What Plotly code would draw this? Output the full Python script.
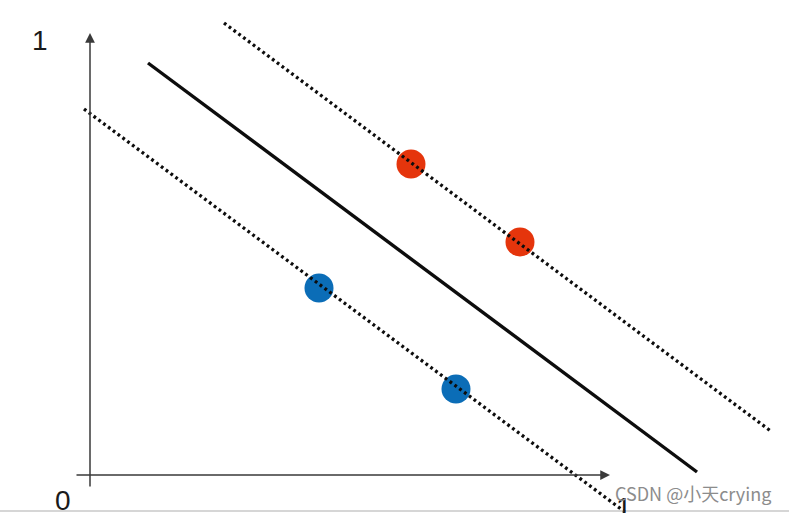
import plotly.graph_objects as go

# Coordinates: origin at the axes' crossing; units ~ pixels of the reference
solid_x = [58, 607]
solid_y = [412, 3]
upper_x = [134, 682]
upper_y = [452, 43]
lower_x = [-6, 535]
lower_y = [366, -37]
red_x = [321, 430]
red_y = [311, 233]
blue_x = [229, 366]
blue_y = [187, 86]

fig = go.Figure()
fig.add_trace(go.Scatter(x=red_x, y=red_y, mode="markers",
                         marker=dict(size=29, color="#E5350C", line=dict(width=0))))
fig.add_trace(go.Scatter(x=blue_x, y=blue_y, mode="markers",
                         marker=dict(size=29, color="#0B6DB7", line=dict(width=0))))
fig.add_trace(go.Scatter(x=solid_x, y=solid_y, mode="lines",
                         line=dict(color="#0d0d0d", width=3.4)))
for lx, ly in [(upper_x, upper_y), (lower_x, lower_y)]:
    fig.add_trace(go.Scatter(x=lx, y=ly, mode="lines",
                             line=dict(color="#0d0d0d", width=3.3, dash="2.8px,3.2px")))

axis_col = "#3a3a3a"
# y axis with arrow
fig.add_annotation(x=0, y=442, ax=0, ay=-13, xref="x", yref="y", axref="x", ayref="y",
                   showarrow=True, arrowhead=2, arrowsize=1.3, arrowwidth=1.5,
                   arrowcolor=axis_col, text="")
# x axis with arrow
fig.add_annotation(x=520, y=0, ax=-15, ay=0, xref="x", yref="y", axref="x", ayref="y",
                   showarrow=True, arrowhead=2, arrowsize=1.3, arrowwidth=1.5,
                   arrowcolor=axis_col, text="")

lab_font = dict(family="Liberation Sans", size=28, color="#1a1a1a")
fig.add_annotation(x=-50, y=435, text="1", showarrow=False, font=lab_font)
fig.add_annotation(x=-27, y=-25, text="0", showarrow=False, font=lab_font)
fig.add_annotation(x=534, y=-15, text="1", showarrow=False, font=lab_font, yanchor="top")

# watermark
fig.add_annotation(x=603, y=-18, text="CSDN @小天crying", showarrow=False,
                   font=dict(family="Noto Sans CJK SC", size=18, color="#8c8c8c"))

# bottom border line of the screenshot
fig.add_shape(type="line", xref="paper", yref="y", x0=0, x1=1, y0=-36, y1=-36,
              line=dict(color="#c8c8c8", width=1.5))

fig.update_layout(
    width=789, height=513,
    margin=dict(l=0, r=0, t=0, b=0),
    paper_bgcolor="white", plot_bgcolor="white",
    showlegend=False,
    xaxis=dict(range=[-90, 699], visible=False, fixedrange=True),
    yaxis=dict(range=[-38, 475], visible=False, fixedrange=True),
)
fig.write_html("out.html", config={"displayModeBar": False},
               post_script="document.body.style.margin='0';document.body.style.overflow='hidden';")
